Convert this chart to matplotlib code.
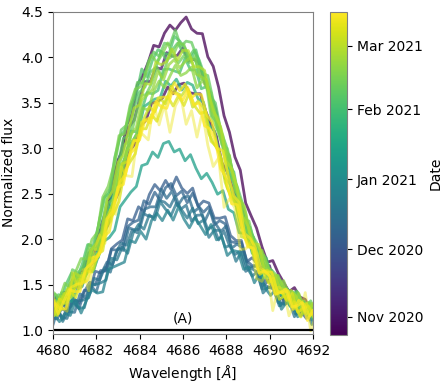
import numpy as np
import matplotlib
matplotlib.use("Agg")
import matplotlib.pyplot as plt
import matplotlib.dates as mdates
from datetime import datetime

# normalised line profiles, 0.25 A steps from 4679.5 to 4692.5
shape_high = [0.07, 0.08, 0.09, 0.10, 0.12, 0.15, 0.18, 0.20, 0.23, 0.27,
              0.31, 0.37, 0.44, 0.51, 0.59, 0.66, 0.72, 0.78, 0.83, 0.88,
              0.91, 0.94, 0.96, 0.98, 0.99, 1.00, 1.00, 0.99, 0.97, 0.95,
              0.91, 0.85, 0.78, 0.71, 0.64, 0.57, 0.50, 0.43, 0.37, 0.32,
              0.28, 0.24, 0.21, 0.18, 0.16, 0.14, 0.12, 0.11, 0.09, 0.08,
              0.07, 0.06, 0.05]
shape_low = [0.06, 0.07, 0.09, 0.10, 0.12, 0.13, 0.15, 0.18, 0.21, 0.25,
             0.30, 0.35, 0.40, 0.46, 0.52, 0.58, 0.64, 0.70, 0.76, 0.81,
             0.86, 0.91, 0.95, 0.98, 1.00, 1.00, 0.99, 0.97, 0.95, 0.92,
             0.89, 0.86, 0.83, 0.80, 0.76, 0.72, 0.67, 0.62, 0.57, 0.52,
             0.47, 0.42, 0.37, 0.33, 0.29, 0.25, 0.22, 0.19, 0.17, 0.15,
             0.13, 0.12, 0.11]
# pixel noise pattern (typed), reused with different offsets
jitter = [0.4, -0.7, 0.9, -0.2, -0.9, 0.6, 0.1, -0.5, 1.0, -0.3,
          0.5, -1.0, 0.2, 0.7, -0.6, 0.3, -0.8, 0.9, -0.1, -0.4,
          0.8, -0.9, 0.3, 0.6, -0.7, 0.0, 0.9, -0.5, -0.2, 0.7,
          -1.0, 0.4, 0.5, -0.6, 0.2, -0.3, 1.0, -0.8, 0.1, 0.6,
          -0.4, -0.9, 0.8, 0.3, -0.2, -0.7, 0.9, -0.1, 0.5, -1.0,
          0.4, 0.7, -0.5]

dates = ["2020-10-24", "2020-10-28", "2020-11-02", "2020-12-05", "2020-12-09",
         "2020-12-13", "2020-12-17", "2020-12-21", "2020-12-26", "2021-01-12",
         "2021-01-22", "2021-02-01", "2021-02-04", "2021-02-07", "2021-02-10",
         "2021-02-13", "2021-02-16", "2021-02-19", "2021-02-22", "2021-02-27",
         "2021-03-04", "2021-03-08", "2021-03-12", "2021-03-14", "2021-03-16"]
peaks = [4.38, 3.68, 4.05, 2.62, 2.55, 2.48, 2.40, 2.35, 2.28, 3.02,
         3.72, 3.90, 4.15, 4.10, 4.20, 4.00, 4.12, 3.85, 3.95, 4.05,
         3.62, 3.55, 3.42, 3.66, 3.58]
profile = ["high", "high", "high", "low", "low", "low", "low", "low", "low", "low",
           "high", "high", "high", "high", "high", "high", "high", "high", "high", "high",
           "high", "high", "high", "high", "high"]
shifts = [0.15, 0.05, 0.0, -0.3, -0.3, -0.25, -0.35, -0.3, -0.2, -0.4,
          -0.05, 0.1, -0.15, 0.0, -0.1, 0.05, -0.2, 0.15, 0.1, 0.0,
          -0.05, 0.05, -0.1, 0.1, 0.0]
noise = [0.07, 0.06, 0.07, 0.09, 0.09, 0.10, 0.09, 0.10, 0.10, 0.08,
         0.08, 0.10, 0.10, 0.09, 0.10, 0.10, 0.10, 0.10, 0.09, 0.09,
         0.10, 0.10, 0.22, 0.09, 0.10]

wave = 4679.5 + 0.25 * np.arange(len(shape_high))
shapes = {"high": np.array(shape_high), "low": np.array(shape_low)}
jit = np.array(jitter)

dnum = mdates.date2num([datetime.strptime(d, "%Y-%m-%d") for d in dates])
cmap = plt.get_cmap("viridis")
norm = matplotlib.colors.Normalize(vmin=dnum.min(), vmax=dnum.max())

fig = plt.figure(figsize=(4.45, 3.82), dpi=100)
ax = fig.add_axes([0.119, 0.126, 0.584, 0.843])

for i in range(len(dates)):
    flux = 1.0 + (peaks[i] - 1.0) * shapes[profile[i]] + noise[i] * np.roll(jit, 3 * i)
    a = 0.45 if noise[i] > 0.15 else 0.75
    ax.plot(wave + shifts[i], flux, color=cmap(norm(dnum[i])), lw=2.0, alpha=a)

ax.axhline(1.0, color="k", lw=1.6)
ax.text(4686.0, 1.13, "(A)", ha="center", va="center", fontsize=10)
ax.set_xlim(4680, 4692)
ax.set_ylim(0.96, 4.5)
ax.set_xticks(np.arange(4680, 4693, 2))
ax.set_yticks(np.arange(1.0, 4.51, 0.5))
ax.set_xlabel(r"Wavelength [$\AA$]")
ax.set_ylabel("Normalized flux")
for s in ax.spines.values():
    s.set_color("gray")

cax = fig.add_axes([0.742, 0.123, 0.038, 0.846])
sm = matplotlib.cm.ScalarMappable(norm=norm, cmap=cmap)
cb = fig.colorbar(sm, cax=cax)
cb.set_label("Date")
cb.ax.yaxis.set_major_locator(mdates.MonthLocator())
cb.ax.yaxis.set_major_formatter(mdates.DateFormatter("%b %Y"))
cb.outline.set_edgecolor("gray")

fig.savefig("out.png", dpi=100)
